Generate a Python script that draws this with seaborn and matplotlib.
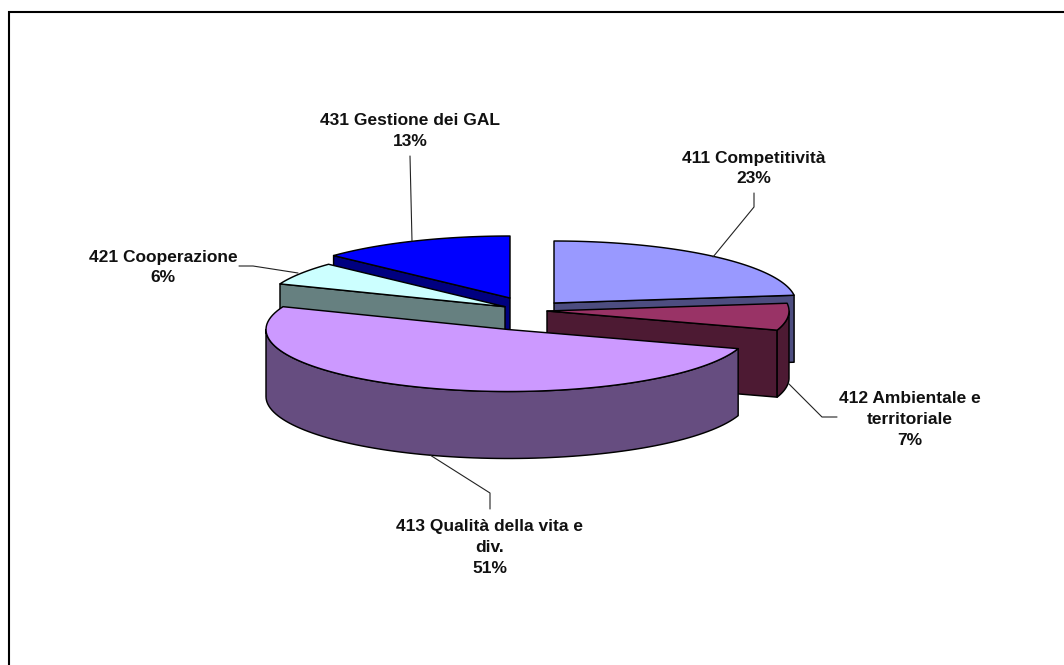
import numpy as np
import matplotlib
matplotlib.use("Agg")
import matplotlib.pyplot as plt
from matplotlib.patches import Polygon
import seaborn as sns

# --- data ---
categories = ["411 Competitività", "412 Ambientale e\nterritoriale",
              "413 Qualità della vita e\ndiv.", "421 Cooperazione", "431 Gestione dei GAL"]
shares = [23, 7, 51, 6, 13]
top_colors = ["#9999FF", "#993366", "#CC99FF", "#CCFFFF", "#0000FF"]

# --- layout of the exploded 3-D pie, in pixels of the 1064x665 canvas ---
RX, RY, DEPTH = 242, 62, 67
centres_x = [554, 547, 508, 505, 510]
centres_y = [303, 311, 329.5, 306.7, 298]
label_x = [754, 910, 490, 163, 410]
label_y = [168.5, 419.5, 547.5, 267.5, 131]
leaders = [
    [(754, 193), (754, 207), (713, 257)],
    [(788, 383), (822, 417), (837, 417)],
    [(430, 455), (490, 493), (490, 509)],
    [(239, 266), (253, 266), (298, 273)],
    [(410, 156), (412, 241)],
]
draw_order = [4, 3, 0, 1, 2]

sns.set_theme(style="white")
plt.rcParams["font.family"] = ["Liberation Sans", "DejaVu Sans"]
palette = sns.color_palette(top_colors)
side_colors = [tuple(c * 0.5 for c in col) for col in palette]

fig = plt.figure(figsize=(10.64, 6.65), dpi=100, facecolor="white")
ax = fig.add_axes([0, 0, 1, 1])
ax.set_xlim(0, 1064)
ax.set_ylim(665, 0)
ax.axis("off")

EDGE = dict(edgecolor="black", linewidth=1.05, joinstyle="round")


def rim(cx, cy, t0, t1):
    t = np.radians(np.linspace(t0, t1, 90))
    return np.column_stack([cx + RX * np.sin(t), cy - RY * np.cos(t)])


def add_poly(points, color, z):
    ax.add_patch(Polygon(points, closed=True, facecolor=color, zorder=z, **EDGE))


# frame: only the top and left border fall inside the picture
ax.plot([9, 9, 1064], [665, 12, 12], color="black", lw=1.5, solid_joinstyle="miter",
        clip_on=True, zorder=1)

edges = np.cumsum([0] + shares) / np.sum(shares) * 360.0
z = 2
for i in draw_order:
    t0, t1 = edges[i], edges[i + 1]
    cx, cy = centres_x[i], centres_y[i]
    apex = np.array([cx, cy])
    down = np.array([0, DEPTH])
    arc = rim(cx, cy, t0, t1)

    # radial wall turned towards the viewer
    wall = arc[0] if t0 > 180 else (arc[-1] if t1 <= 180 else None)
    if wall is not None:
        add_poly([apex, wall, wall + down, apex + down], side_colors[i], z)
        z += 1

    # outer rim on the front half
    lo, hi = max(t0, 90), min(t1, 270)
    if hi > lo:
        r = rim(cx, cy, lo, hi)
        add_poly(np.vstack([r, (r + down)[::-1]]), side_colors[i], z)
        z += 1

    add_poly(np.vstack([apex, arc]), palette[i], z)
    z += 1

for path in leaders:
    xs, ys = zip(*path)
    ax.plot(xs, ys, color="#222222", lw=0.8, zorder=z)

for i, name in enumerate(categories):
    ax.text(label_x[i], label_y[i], f"{name}\n{shares[i]}%", ha="center", va="center",
            fontsize=12.5, fontweight="bold", color="#111111", linespacing=1.49, zorder=z + 1)

fig.savefig("out.png", dpi=100, facecolor="white")
